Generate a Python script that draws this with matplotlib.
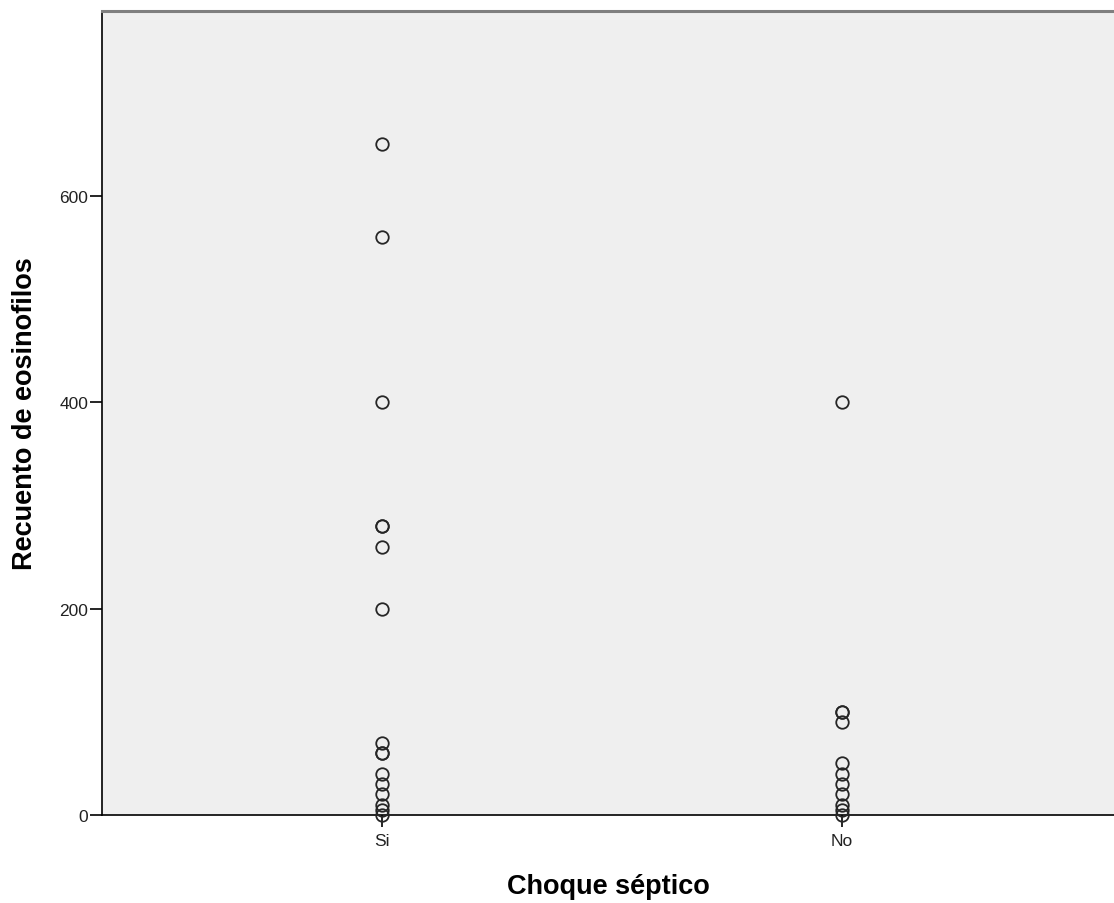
import matplotlib
matplotlib.use('Agg')
import matplotlib.pyplot as plt

# eosinophil counts, per group
groups = ['Si', 'No']
si_counts = [650, 560, 400, 280, 280, 260, 200, 70, 60, 60, 40, 30, 20, 10, 5, 0]
no_counts = [400, 100, 100, 90, 50, 40, 30, 20, 10, 5, 0]
y_ticks = [0, 200, 400, 600]

plt.rcParams['font.family'] = ['Liberation Sans', 'DejaVu Sans']

fig = plt.figure(figsize=(11.14, 9.04), dpi=100)
ax = fig.add_axes([102 / 1114, 88 / 904, 1.0 - 102 / 1114, (816 - 12) / 904])
ax.set_facecolor('#efefef')

for i, vals in enumerate([si_counts, no_counts]):
    ax.plot([i] * len(vals), vals, linestyle='none', marker='o', markersize=9,
            markerfacecolor='none', markeredgecolor='#262626', markeredgewidth=1.3,
            clip_on=False, zorder=3)

ax.set_xlim(-0.609, 1.591)
ax.set_ylim(0, 779)
ax.set_xticks(range(len(groups)))
ax.set_xticklabels(groups)
ax.set_yticks(y_ticks)

ax.tick_params(axis='both', direction='out', length=8.5, width=1.2, color='black',
               labelsize=12.5, labelcolor='#222222')
ax.tick_params(axis='x', pad=4.5)
ax.tick_params(axis='y', pad=1.5)

for side in ['left', 'bottom']:
    ax.spines[side].set_color('black')
    ax.spines[side].set_linewidth(1.2)
ax.spines['top'].set_color('#7f7f7f')
ax.spines['top'].set_linewidth(2.2)
ax.spines['right'].set_visible(False)

ax.set_xlabel('Choque séptico', fontsize=19.5, fontweight='bold')
ax.xaxis.set_label_coords(0.5, -0.0721)
ax.set_ylabel('Recuento de eosinofilos', fontsize=19.5, fontweight='bold')
ax.yaxis.set_label_coords(-0.0756, 0.5)
ax.yaxis.label.set_verticalalignment('center')

fig.savefig('out.png', dpi=100)
